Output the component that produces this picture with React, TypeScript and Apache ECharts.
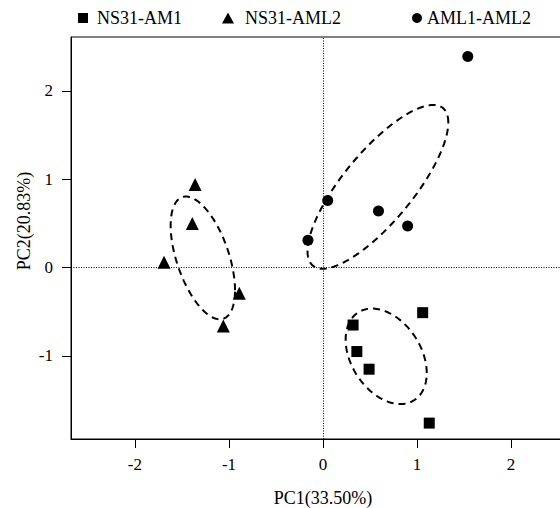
import React, { useEffect, useRef } from "react";
import * as echarts from "echarts";

// ---- data ----
const CATEGORIES = ["NS31-AM1", "NS31-AML2", "AML1-AML2"];
const AM1_PC1 = [1.06, 0.32, 0.36, 0.49, 1.13];
const AM1_PC2 = [-0.51, -0.65, -0.95, -1.15, -1.76];
const AML2_PC1 = [-1.36, -1.39, -1.69, -0.89, -1.06];
const AML2_PC2 = [0.94, 0.5, 0.06, -0.29, -0.66];
const AMLAML_PC1 = [1.54, 0.05, 0.59, 0.9, -0.16];
const AMLAML_PC2 = [2.39, 0.76, 0.64, 0.47, 0.31];
const X_TICKS = [-2, -1, 0, 1, 2];
const Y_TICKS = [-1, 0, 1, 2];
const X_NAME = "PC1(33.50%)";
const Y_NAME = "PC2(20.83%)";
const ELLIPSE_K = 1.1; // sd multiplier of the group ellipses

const FONT = "'Liberation Serif', 'Times New Roman', serif";

function zip(xs: number[], ys: number[]) {
  return xs.map((x, i) => [x, ys[i]]);
}

// covariance ellipse of a group, drawn through the chart's axes
function ellipse(xs: number[], ys: number[], k: number, n = 160) {
  const m = xs.length;
  const mx = xs.reduce((a, b) => a + b, 0) / m;
  const my = ys.reduce((a, b) => a + b, 0) / m;
  let sxx = 0, syy = 0, sxy = 0;
  for (let i = 0; i < m; i++) {
    sxx += (xs[i] - mx) ** 2;
    syy += (ys[i] - my) ** 2;
    sxy += (xs[i] - mx) * (ys[i] - my);
  }
  sxx /= m - 1; syy /= m - 1; sxy /= m - 1;
  const l11 = Math.sqrt(sxx);
  const l21 = sxy / l11;
  const l22 = Math.sqrt(Math.max(syy - l21 * l21, 0));
  const pts: number[][] = [];
  for (let i = 0; i <= n; i++) {
    const t = (i / n) * Math.PI * 2;
    const c = Math.cos(t), s = Math.sin(t);
    pts.push([mx + k * l11 * c, my + k * (l21 * c + l22 * s)]);
  }
  return pts;
}

export default function App() {
  const ref = useRef<HTMLDivElement>(null);
  useEffect(() => {
    if (!ref.current) return;
    const chart = echarts.init(ref.current, undefined, { renderer: "svg" });
    const groups = [
      { name: CATEGORIES[0], xs: AM1_PC1, ys: AM1_PC2, symbol: "rect", size: 11 },
      { name: CATEGORIES[1], xs: AML2_PC1, ys: AML2_PC2, symbol: "triangle", size: 13 },
      { name: CATEGORIES[2], xs: AMLAML_PC1, ys: AMLAML_PC2, symbol: "circle", size: 11 },
    ];
    const legendPos = [
      { left: 78, icon: "rect", w: 10, h: 10, pad: 4 },
      { left: 222, icon: "triangle", w: 12, h: 11, pad: 6 },
      { left: 412, icon: "circle", w: 10, h: 10, pad: 0 },
    ];
    const scatter = groups.map((g, i) => ({
      type: "scatter",
      name: g.name,
      data: zip(g.xs, g.ys),
      symbol: g.symbol,
      symbolSize: g.size,
      itemStyle: { color: "#000", opacity: 1 },
      z: 4,
      silent: true,
      ...(i === 0
        ? {
            markLine: {
              silent: true,
              symbol: "none",
              label: { show: false },
              lineStyle: { color: "#000", width: 1, type: [1, 1.5], opacity: 1 },
              data: [{ xAxis: 0 }, { yAxis: 0 }],
              z: 1,
            },
          }
        : {}),
    }));
    const ellipses = groups.map((g) => ({
      type: "line",
      name: "ellipse " + g.name,
      data: ellipse(g.xs, g.ys, ELLIPSE_K),
      showSymbol: false,
      symbol: "none",
      smooth: false,
      silent: true,
      lineStyle: { color: "#000", width: 2, type: [7, 5], opacity: 1 },
      z: 3,
    }));
    chart.setOption({
      animation: false,
      backgroundColor: "#fff",
      textStyle: { fontFamily: FONT },
      legend: legendPos.map((p, i) => ({
        data: [{ name: CATEGORIES[i], icon: p.icon }],
        left: p.left,
        top: 9,
        itemWidth: p.w,
        itemHeight: p.h,
        selectedMode: false,
        padding: 0,
        itemStyle: { color: "#000", opacity: 1 },
        textStyle: {
          fontFamily: FONT,
          fontSize: 18,
          color: "#000",
          padding: [0, 0, 0, p.pad],
        },
      })),
      grid: {
        left: 71,
        top: 37,
        width: 504,
        height: 402,
        show: true,
        borderColor: "#000",
        borderWidth: 1,
        backgroundColor: "transparent",
        containLabel: false,
        outerBoundsMode: "none",
      },
      xAxis: {
        type: "value",
        min: -2.68,
        max: 2.68,
        position: "bottom",
        name: X_NAME,
        nameLocation: "middle",
        nameGap: 50,
        nameTextStyle: { fontFamily: FONT, fontSize: 18, color: "#000" },
        axisLine: { show: true, onZero: false, lineStyle: { color: "#000", width: 1 } },
        axisTick: {
          show: true,
          inside: false,
          length: 9,
          customValues: X_TICKS,
          lineStyle: { color: "#000", width: 1 },
        },
        axisLabel: {
          customValues: X_TICKS,
          margin: 17,
          fontFamily: FONT,
          fontSize: 17,
          color: "#000",
        },
        splitLine: { show: false },
      },
      yAxis: {
        type: "value",
        min: -1.94,
        max: 2.61,
        position: "left",
        axisLine: { show: true, onZero: false, lineStyle: { color: "#000", width: 1 } },
        axisTick: {
          show: true,
          inside: false,
          length: 9,
          customValues: Y_TICKS,
          lineStyle: { color: "#000", width: 1 },
        },
        axisLabel: {
          customValues: Y_TICKS,
          margin: 18,
          fontFamily: FONT,
          fontSize: 17,
          color: "#000",
        },
        splitLine: { show: false },
      },
      graphic: [
        {
          type: "text",
          x: 24,
          y: 221,
          rotation: Math.PI / 2,
          style: {
            text: Y_NAME,
            fontFamily: FONT,
            fontSize: 18,
            fill: "#000",
            align: "center",
            verticalAlign: "middle",
          },
        },
      ],
      series: [...ellipses, ...scatter],
    });
    return () => chart.dispose();
  }, []);
  return (
    <div
      ref={ref}
      style={{ position: "fixed", left: 0, top: 0, width: 560, height: 508 }}
    />
  );
}
